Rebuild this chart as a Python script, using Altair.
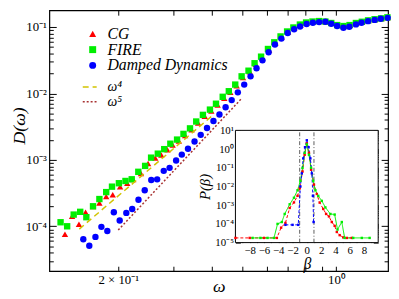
import altair as alt
import pandas as pd

# ---------------- main panel: D(omega) ----------------
cg_w = [0.1349,0.1422,0.1496,0.1571,0.1660,0.1740,0.1830,0.1920,0.2028,0.2138,0.2234,0.2366,0.2494,0.2630,0.2750,0.2877,0.2990,0.3130,0.3280,0.3440,0.3610,0.3790,0.3980,0.4170,0.4380,0.4580,0.4800,0.5030,0.5290,0.5530,0.5800,0.6100,0.6390,0.6690,0.7020,0.7350,0.7700,0.8060,0.8450,0.8860,0.9290,0.9700,1.0130,1.0610,1.1100,1.1630,1.2150,1.2720,1.3350,1.4000,1.4650]
cg_d = [7.6e-5,1.42e-4,1.07e-4,1.63e-4,1.98e-4,2.24e-4,2.81e-4,2.98e-4,3.95e-4,4.45e-4,5.06e-4,6.25e-4,8.81e-4,1.07e-3,1.18e-3,1.42e-3,1.68e-3,1.92e-3,2.33e-3,2.85e-3,3.60e-3,4.55e-3,5.45e-3,6.70e-3,8.50e-3,1.04e-2,1.31e-2,1.74e-2,2.12e-2,2.75e-2,3.45e-2,4.50e-2,5.75e-2,7.05e-2,8.40e-2,9.65e-2,0.107,0.116,0.1205,0.1225,0.1205,0.114,0.106,0.1025,0.106,0.114,0.119,0.125,0.130,0.134,0.139]

fire_w = [0.1306,0.1371,0.1439,0.1510,0.1580,0.1660,0.1740,0.1830,0.1910,0.2010,0.2110,0.2210,0.2320,0.2440,0.2550,0.2680,0.2810,0.2940,0.3090,0.3240,0.3400,0.3560,0.3740,0.3940,0.4120,0.4330,0.4530,0.4750,0.4980,0.5240,0.5480,0.5750,0.6050,0.6340,0.6640,0.6970,0.7300,0.7660,0.8020,0.8410,0.8820,0.9250,0.9660,1.0090,1.0570,1.1060,1.1590,1.2110,1.2680,1.3310,1.3960,1.4630]
fire_d = [1.15e-4,1.00e-4,1.50e-4,1.65e-4,1.37e-4,2.00e-4,2.57e-4,3.27e-4,3.95e-4,4.45e-4,4.81e-4,5.10e-4,6.61e-4,8.11e-4,1.08e-3,1.24e-3,1.45e-3,1.75e-3,2.02e-3,2.46e-3,2.98e-3,3.78e-3,4.76e-3,5.71e-3,7.00e-3,8.90e-3,1.08e-2,1.36e-2,1.81e-2,2.20e-2,2.85e-2,3.58e-2,4.67e-2,5.89e-2,7.22e-2,8.57e-2,9.84e-2,0.109,0.117,0.121,0.123,0.121,0.115,0.107,0.1035,0.107,0.115,0.120,0.126,0.131,0.135,0.140]

dd_w = [0.1545,0.1615,0.1690,0.1766,0.1845,0.1936,0.2022,0.2123,0.2218,0.2323,0.2433,0.2553,0.2667,0.2800,0.2924,0.3068,0.3200,0.3350,0.3516,0.3680,0.3855,0.4044,0.4227,0.4424,0.4627,0.4842,0.5076,0.5320,0.5560,0.5810,0.6080,0.6370,0.6680,0.7000,0.7340,0.7670,0.8050,0.8430,0.8830,0.9250,0.9660,1.0090,1.0570,1.1040,1.1590,1.2080,1.2680,1.3310,1.3930,1.4660]
dd_d = [6.38e-5,5.08e-5,6.92e-5,9.8e-5,8.5e-5,1.63e-4,1.22e-4,1.59e-4,1.82e-4,2.51e-4,3.48e-4,4.98e-4,5.09e-4,6.84e-4,7.58e-4,9.77e-4,1.20e-3,1.47e-3,1.89e-3,2.38e-3,3.02e-3,3.84e-3,4.81e-3,6.19e-3,7.94e-3,1.04e-2,1.36e-2,1.81e-2,2.40e-2,3.15e-2,4.18e-2,5.46e-2,6.70e-2,8.15e-2,9.25e-2,0.102,0.111,0.116,0.1186,0.120,0.112,0.1035,0.0977,0.101,0.1096,0.116,0.1227,0.128,0.133,0.1375]

series_names = ["CG", "FIRE", "Damped Dynamics"]
series_colors = ["#ff0000", "#00ee00", "#0000ff"]
series_shapes = ["triangle-up", "square", "circle"]

# power-law guides (end points)
guide_names = ["ω⁴", "ω⁵"]
guide_colors = ["#d2c400", "#a83232"]
w4_w = [0.150, 0.403]
w4_d = [9.08e-5, 4.73e-3]
w5_w = [0.200, 0.496]
w5_d = [8.77e-5, 8.23e-3]

x_dom = [0.1202, 1.47]
y_dom = [2.11e-5, 0.179]
x_lab_vals = [0.2, 1.0]
x_lab_text = ["2 × 10⁻¹", "10⁰"]
x_tick_vals = [0.2, 0.3, 0.4, 0.5, 0.6, 0.7, 0.8, 0.9, 1.0]
y_lab_vals = [1e-4, 1e-3, 1e-2, 1e-1]
y_lab_text = ["10⁻⁴", "10⁻³", "10⁻²", "10⁻¹"]
y_minor = [m * 10.0 ** e for e in (-5, -4, -3, -2, -1) for m in range(2, 10)]

# ---------------- inset: P(beta) ----------------
in_cg_b = [-10,-8,-6,-4.2,-3.6,-3.0,-2.4,-1.8,-1.3,-1.0,-0.6,-0.3,0,0.3,0.6,1.0,1.4,1.8,2.3,2.7,3.1,3.5,3.9,4.2,4.6,5.1,5.6,6.3]
in_cg_p = [1.78e-5,1.78e-5,1.78e-5,1.78e-5,6.3e-5,1.12e-4,7.1e-4,1.41e-3,3.16e-3,7.9e-3,0.063,0.5,2.0,0.63,0.079,0.0126,3.98e-3,1.38e-3,6.3e-4,3.4e-4,2.5e-4,1.26e-4,7.9e-5,3.7e-5,2.5e-5,1.9e-5,1.78e-5,1.78e-5]
in_fire_b = [-7.6,-6.5,-5.5,-4.6,-4.1,-3.5,-3.1,-2.4,-1.8,-1.3,-0.9,-0.6,-0.3,0,0.3,0.6,0.9,1.2,1.6,2.1,2.6,3.3,3.9,4.3,4.9,5.3,6.5,7.7,8.8]
in_fire_p = [1.78e-5,1.78e-5,1.78e-5,1.78e-5,1.0e-4,1.26e-4,3.4e-4,1.12e-3,2.5e-3,6.3e-3,0.02,0.1,0.63,1.78,0.5,0.1,0.02,6.3e-3,3.16e-3,1.7e-3,7.6e-4,3.4e-4,3.16e-4,5.0e-5,1.26e-4,1.78e-5,1.78e-5,1.78e-5,1.78e-5]
in_dd_b = [-3.0,-2.0,-1.2,-0.9,-0.7,-0.5,-0.25,0,0.25,0.5,0.7,0.85,0.95]
in_dd_p = [8.9e-5,8.9e-5,8.9e-5,0.01,0.05,0.316,1.26,2.95,1.26,0.316,0.05,3.16e-3,1.26e-4]
in_vlines = [-1, 1]

in_x_dom = [-10, 10]
in_y_dom = [1e-5, 10]
in_x_lab = [-8, -6, -4, -2, 0, 2, 4, 6, 8]
in_x_minor = [-9, -7, -5, -3, -1, 1, 3, 5, 7, 9]
in_y_lab_vals = [1e-5, 1e-4, 1e-3, 1e-2, 1e-1, 1, 10]
in_y_lab_text = ["10⁻⁵", "10⁻⁴", "10⁻³", "10⁻²", "10⁻¹", "10⁰", "10¹"]
in_y_minor = [m * 10.0 ** e for e in (-5, -4, -3, -2, -1, 0) for m in range(2, 10)]

# ---------------- layout ----------------
W, H = 344, 265
IN_X = [189, 334]      # inset range inside the plot area (px)
IN_Y = [236, 122]
SERIF = "Liberation Serif"


def label_expr(vals, texts):
    expr = "''"
    for v, t in zip(vals, texts):
        expr = f"abs(datum.value - {v}) < {abs(v) * 1e-6 + 1e-12} ? '{t}' : ({expr})"
    return expr


def tick_axis(orient, offset, values, size):
    return alt.Axis(orient=orient, offset=offset, values=values, tickSize=size,
                    labels=False, domain=False, grid=False, title=None,
                    tickColor="black", tickWidth=1)


mx = alt.Scale(type="log", domain=x_dom, nice=False)
my = alt.Scale(type="log", domain=y_dom, nice=False)
ix = alt.Scale(type="linear", domain=in_x_dom, range=IN_X, nice=False, zero=False)
iy = alt.Scale(type="log", domain=in_y_dom, range=IN_Y, nice=False)

dummy_main = pd.DataFrame({"x": [x_dom[0]], "y": [y_dom[0]]})
dummy_in = pd.DataFrame({"x": [in_x_dom[0]], "y": [in_y_dom[0]]})


def ticks_layer(df, xs, ys, xaxis, yaxis):
    return alt.Chart(df).mark_point(opacity=0).encode(
        x=alt.X("x:Q", scale=xs, axis=xaxis),
        y=alt.Y("y:Q", scale=ys, axis=yaxis),
    )


rows = []
for name, ws, ds in zip(series_names, [cg_w, fire_w, dd_w], [cg_d, fire_d, dd_d]):
    for w, d in zip(ws, ds):
        rows.append({"omega": w, "D": d, "series": name})
pts_df = pd.DataFrame(rows)

pts_legend = alt.Legend(orient="none", legendX=36, legendY=16, title=None,
                        labelFont=SERIF, labelFontStyle="italic", labelFontSize=16,
                        labelColor="black", symbolSize=50, rowPadding=0, labelOffset=7)

points = alt.Chart(pts_df).mark_point(filled=True, opacity=1, size=42).encode(
    x=alt.X("omega:Q", scale=mx, axis=alt.Axis(
        values=x_lab_vals, labelExpr=label_expr(x_lab_vals, x_lab_text), ticks=False,
        domain=False, grid=False, labelFont=SERIF, labelFontSize=13, labelPadding=3,
        labelColor="black", title="ω", titleFont=SERIF, titleFontStyle="italic",
        titleFontWeight="normal", titleFontSize=18, titleColor="black",
        titleBaseline="middle", titleY=16)),
    y=alt.Y("D:Q", scale=my, axis=alt.Axis(
        values=y_lab_vals, labelExpr=label_expr(y_lab_vals, y_lab_text), ticks=False,
        domain=False, grid=False, labelFont=SERIF, labelFontSize=13, labelPadding=3,
        labelColor="black", title="D(ω)", titleFont=SERIF, titleFontStyle="italic",
        titleFontWeight="normal", titleFontSize=18, titleColor="black",
        titleX=-30, titleY=117, titleBaseline="middle")),
    color=alt.Color("series:N", scale=alt.Scale(domain=series_names, range=series_colors),
                    legend=pts_legend),
    shape=alt.Shape("series:N", scale=alt.Scale(domain=series_names, range=series_shapes),
                    legend=pts_legend),
    order=alt.Order("o:Q"),
).transform_calculate(o="indexof(['CG','FIRE','Damped Dynamics'], datum.series)")

g_rows = []
for name, ws, ds in zip(guide_names, [w4_w, w5_w], [w4_d, w5_d]):
    for w, d in zip(ws, ds):
        g_rows.append({"omega": w, "D": d, "line": name})
g_df = pd.DataFrame(g_rows)
line_legend = alt.Legend(orient="none", legendX=33, legendY=70, title=None,
                         labelFont=SERIF, labelFontStyle="italic", labelFontSize=14,
                         labelColor="black", symbolType="stroke", symbolSize=200,
                         symbolStrokeWidth=1.5, rowPadding=0, labelOffset=10)
guides = alt.Chart(g_df).mark_line(strokeWidth=1.5).encode(
    x=alt.X("omega:Q", scale=mx, axis=None),
    y=alt.Y("D:Q", scale=my, axis=None),
    color=alt.Color("line:N", scale=alt.Scale(domain=guide_names, range=guide_colors),
                    legend=line_legend),
    strokeDash=alt.StrokeDash("line:N", scale=alt.Scale(domain=guide_names,
                              range=[[6, 4], [2, 2]]), legend=line_legend),
)

main_ticks = [
    ticks_layer(dummy_main, mx, my, tick_axis("top", -H, x_tick_vals, 5),
                tick_axis("right", -W, y_lab_vals, 7)),
    ticks_layer(dummy_main, mx, my, tick_axis("bottom", -H, x_tick_vals, 5),
                tick_axis("left", -W, y_lab_vals, 7)),
    ticks_layer(dummy_main, mx, my, None, tick_axis("right", -W, y_minor, 4)),
    ticks_layer(dummy_main, mx, my, None, tick_axis("left", -W, y_minor, 4)),
]

# ---------------- inset ----------------
frame_df = pd.DataFrame({"x": [in_x_dom[0]], "x2": [in_x_dom[1]],
                         "y": [in_y_dom[0]], "y2": [in_y_dom[1]]})
inset_frame = alt.Chart(frame_df).mark_rect(fill="white", stroke="black", strokeWidth=1).encode(
    x=alt.X("x:Q", scale=ix, axis=alt.Axis(
        orient="bottom", offset=-(H - IN_Y[0]), values=in_x_lab, ticks=False, domain=False,
        grid=False, labelFont=SERIF, labelFontSize=11, labelPadding=2, labelColor="black",
        title="β", titleFont=SERIF, titleFontStyle="italic", titleFontWeight="normal",
        titleFontSize=16, titleColor="black", titlePadding=0)),
    x2="x2:Q",
    y=alt.Y("y:Q", scale=iy, axis=alt.Axis(
        orient="left", offset=-IN_X[0], values=in_y_lab_vals,
        labelExpr=label_expr(in_y_lab_vals, in_y_lab_text), ticks=False, domain=False,
        grid=False, labelFont=SERIF, labelFontSize=11, labelPadding=2, labelColor="black",
        title="P(β)", titleFont=SERIF, titleFontStyle="italic", titleFontWeight="normal",
        titleFontSize=15, titleColor="black", titlePadding=2)),
    y2="y2:Q",
)

in_rows = []
for name, bs, ps in zip(series_names, [in_cg_b, in_fire_b, in_dd_b], [in_cg_p, in_fire_p, in_dd_p]):
    for b, p in zip(bs, ps):
        in_rows.append({"beta": b, "P": p, "series": name})
in_df = pd.DataFrame(in_rows)

in_color = alt.Color("series:N", scale=alt.Scale(domain=series_names, range=series_colors), legend=None)
inset_lines = alt.Chart(in_df).mark_line(strokeWidth=1).encode(
    x=alt.X("beta:Q", scale=ix, axis=None),
    y=alt.Y("P:Q", scale=iy, axis=None),
    color=in_color,
    strokeDash=alt.StrokeDash("series:N", scale=alt.Scale(domain=series_names,
                              range=[[3, 2], [1, 0], [3, 2]]), legend=None),
)
inset_pts = alt.Chart(in_df).mark_point(shape="square", filled=True, size=6, opacity=1).encode(
    x=alt.X("beta:Q", scale=ix, axis=None),
    y=alt.Y("P:Q", scale=iy, axis=None),
    color=in_color,
)
vl_df = pd.DataFrame({"b": in_vlines, "lo": in_y_dom[0], "hi": in_y_dom[1]})
inset_vlines = alt.Chart(vl_df).mark_rule(color="#333333", strokeWidth=0.8,
                                          strokeDash=[4, 2, 1, 2]).encode(
    x=alt.X("b:Q", scale=ix, axis=None),
    y=alt.Y("lo:Q", scale=iy, axis=None),
    y2="hi:Q",
)
inset_ticks = [
    ticks_layer(dummy_in, ix, iy, tick_axis("top", -IN_Y[0], in_x_lab, 4),
                tick_axis("right", -(W - IN_X[0]), in_y_lab_vals, 5)),
    ticks_layer(dummy_in, ix, iy, tick_axis("bottom", -(H - IN_Y[1]), in_x_lab, 4),
                tick_axis("left", -IN_X[1], in_y_lab_vals, 5)),
    ticks_layer(dummy_in, ix, iy, tick_axis("top", -IN_Y[0], in_x_minor, 2),
                tick_axis("right", -(W - IN_X[0]), in_y_minor, 2.5)),
    ticks_layer(dummy_in, ix, iy, tick_axis("bottom", -(H - IN_Y[1]), in_x_minor, 2),
                tick_axis("left", -IN_X[1], in_y_minor, 2.5)),
]

layers = [points, guides] + main_ticks + [inset_frame, inset_vlines, inset_lines, inset_pts] + inset_ticks

chart = alt.layer(*layers).resolve_scale(
    x="independent", y="independent", color="independent",
    shape="independent", strokeDash="independent",
).properties(
    width=W, height=H,
    padding={"left": 42, "top": 0, "right": 3, "bottom": 26},
    autosize=alt.AutoSizeParams(type="none"),
).configure_view(stroke="black", strokeWidth=1.2)

chart.save("out.html", embed_options={"renderer": "svg", "actions": False})
